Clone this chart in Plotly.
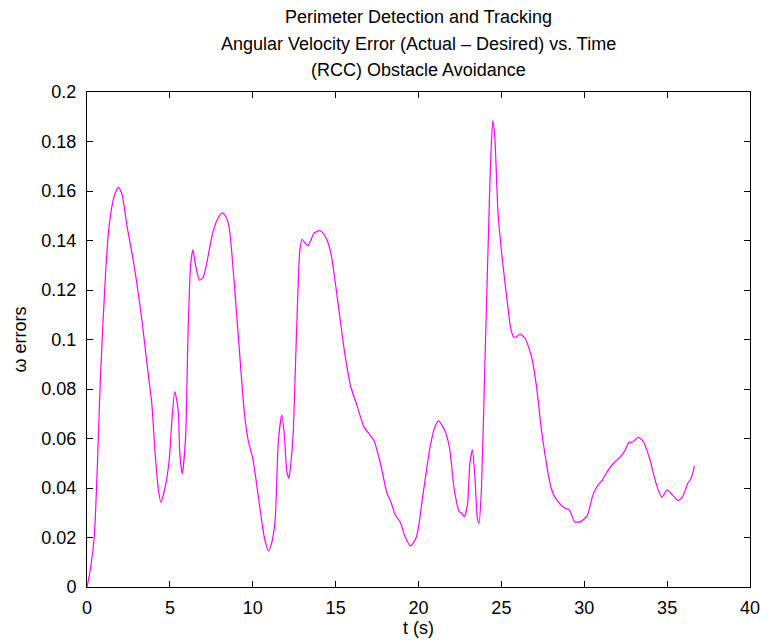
import plotly.graph_objects as go

# Time (s)
t = [0.0, 0.15, 0.44, 0.83, 1.13, 1.33, 1.63, 1.89, 2.1, 2.42, 2.82, 3.31, 3.71, 3.91,
     4.11, 4.31, 4.46, 4.76, 4.96, 5.15, 5.3, 5.5, 5.6, 5.75, 5.95, 6.09, 6.25, 6.39, 6.55,
     6.79, 7.0, 7.18, 7.58, 7.9, 8.17, 8.35, 8.57, 8.87, 9.2, 9.5, 9.72, 10.02, 10.45,
     10.7, 10.95, 11.15, 11.35, 11.55, 11.75, 11.9, 12.05, 12.18, 12.3, 12.44, 12.64, 12.84,
     12.98, 13.15, 13.33, 13.5, 13.69, 14.03, 14.25, 14.48, 14.72, 15.12, 15.52, 15.91, 16.31,
     16.7, 17.0, 17.3, 17.7, 18.1, 18.33, 18.6, 18.89, 19.19, 19.52, 19.88, 20.28, 20.67,
     20.95, 21.21, 21.57, 21.86, 22.16, 22.46, 22.62, 22.76, 22.95, 23.1, 23.25, 23.4, 23.55,
     23.65, 23.8, 24.0, 24.25, 24.35, 24.48, 24.6, 24.8, 25.04, 25.34, 25.55, 25.73, 25.9,
     26.13, 26.43, 26.82, 27.12, 27.42, 27.82, 28.0, 28.21, 28.61, 28.85, 29.11, 29.4, 29.6,
     29.8, 30.2, 30.49, 30.79, 31.09, 31.39, 31.79, 32.18, 32.45, 32.68, 32.93, 33.27, 33.57,
     33.97, 34.33, 34.68, 35.0, 35.32, 35.65, 35.91, 36.25, 36.45, 36.65]

# Angular velocity error
w_err = [0.0, 0.005, 0.0203, 0.0877, 0.128, 0.1456, 0.1577, 0.1615, 0.159, 0.1456, 0.1308,
         0.1079, 0.085, 0.0742, 0.054, 0.0392, 0.0342, 0.0419, 0.0513, 0.070, 0.079, 0.0715,
         0.054, 0.0457, 0.0607, 0.101, 0.130, 0.1362, 0.130, 0.124, 0.125, 0.1294, 0.1429,
         0.149, 0.1512, 0.150, 0.1456, 0.124, 0.095, 0.070, 0.0594, 0.0513, 0.031, 0.020, 0.0145,
         0.018, 0.027, 0.0594, 0.0695, 0.062, 0.047, 0.0439, 0.050, 0.062, 0.1025, 0.136, 0.1405,
         0.139, 0.1379, 0.140, 0.1429, 0.144, 0.143, 0.1402, 0.1348, 0.116, 0.0958, 0.081, 0.0729,
         0.0648, 0.062, 0.0594, 0.050, 0.0379, 0.0345, 0.0291, 0.0264, 0.0203, 0.0166, 0.0203,
         0.0379, 0.0554, 0.064, 0.0671, 0.0634, 0.0567, 0.0392, 0.0304, 0.0298, 0.0284, 0.033,
         0.050, 0.0554, 0.045, 0.028, 0.0257, 0.040, 0.089, 0.1496, 0.172, 0.1884, 0.182, 0.151,
         0.1335, 0.116, 0.105, 0.1011, 0.101, 0.1022, 0.1005, 0.093, 0.081, 0.0634, 0.0459, 0.040,
         0.0365, 0.0331, 0.0318, 0.0311, 0.0264, 0.0262, 0.0264, 0.0291, 0.0365, 0.0408, 0.0432,
         0.0466, 0.0502, 0.0526, 0.055, 0.0583, 0.0587, 0.0605, 0.0587, 0.0513, 0.0419, 0.0362,
         0.0392, 0.0372, 0.0349, 0.0362, 0.0419, 0.0439, 0.0489]

x_ticks = [0, 5, 10, 15, 20, 25, 30, 35, 40]
y_ticks = [0, 0.02, 0.04, 0.06, 0.08, 0.1, 0.12, 0.14, 0.16, 0.18, 0.2]
y_tick_text = ["0", "0.02", "0.04", "0.06", "0.08", "0.1", "0.12", "0.14", "0.16", "0.18", "0.2"]
title_lines = ["Perimeter Detection and Tracking",
               "Angular Velocity Error (Actual \u2013 Desired) vs. Time",
               "(RCC) Obstacle Avoidance"]

FONT = "Liberation Sans, Arial, Helvetica, sans-serif"

fig = go.Figure()
fig.add_trace(go.Scatter(x=t, y=w_err, mode="lines",
                         line=dict(color="#ff00ff", width=1.2, shape="spline", smoothing=0.6),
                         showlegend=False, hoverinfo="skip"))

axis_common = dict(showgrid=False, zeroline=False, showline=True, linecolor="black",
                   linewidth=1, mirror="ticks", ticks="inside", ticklen=6, tickcolor="black",
                   tickfont=dict(family=FONT, size=18, color="black"))

fig.update_xaxes(range=[0, 40], tickvals=x_ticks, ticklabelstandoff=4,
                 title=dict(text="t (s)", font=dict(family=FONT, size=18, color="black"), standoff=2),
                 **axis_common)
fig.update_yaxes(range=[0, 0.2], tickvals=y_ticks, ticktext=y_tick_text, ticklabelstandoff=6,
                 title=dict(text="\u03c9 errors", font=dict(family=FONT, size=18, color="black"), standoff=10),
                 **axis_common)

for i, line in enumerate(title_lines):
    fig.add_annotation(text=line, xref="paper", yref="paper", x=0.5, y=1,
                       yshift=75 - 26.5 * i, xanchor="center", yanchor="middle", showarrow=False,
                       font=dict(family=FONT, size=18, color="black"))

fig.update_layout(width=772, height=644, margin=dict(l=87, r=14, t=92, b=57),
                  plot_bgcolor="white", paper_bgcolor="white")

fig.write_html("out.html")
